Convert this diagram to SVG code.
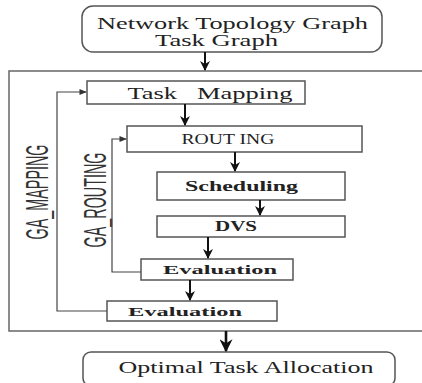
<svg xmlns="http://www.w3.org/2000/svg" width="422" height="383" viewBox="0 0 422 383">
<defs>
<style>
.box{fill:#fff;stroke:#555;stroke-width:1.5}
.frame{fill:none;stroke:#666;stroke-width:1.5}
.t{font-family:"Liberation Serif","Times New Roman",serif;fill:#222;text-anchor:middle}
.tb{font-family:"Liberation Serif","Times New Roman",serif;fill:#222;text-anchor:middle;font-weight:bold}
.tn{font-family:"Liberation Sans",Arial,sans-serif;fill:#333;text-anchor:middle}
.arr{stroke:#111;stroke-width:2;fill:none;marker-end:url(#ah)}
.fba{stroke:#444;stroke-width:1.2;fill:none;marker-end:url(#sh)}
</style>
<marker id="ah" viewBox="0 0 10 10" refX="9" refY="5" markerWidth="5" markerHeight="5" orient="auto" markerUnits="strokeWidth">
<path d="M0,0 L10,5 L0,10 L3,5 z" fill="#111"/>
</marker>
<marker id="sh" viewBox="0 0 10 10" refX="9" refY="5" markerWidth="7" markerHeight="6" orient="auto" markerUnits="strokeWidth">
<path d="M0,1 L10,5 L0,9 z" fill="#333"/>
</marker>
</defs>
<rect width="422" height="383" fill="#fff"/>

<rect class="frame" x="9" y="71" width="430" height="260"/>

<g id="input">
<rect class="box" x="82" y="6" width="300" height="46" rx="11"/>
<text class="t" x="232.5" y="29" font-size="16" textLength="271" lengthAdjust="spacingAndGlyphs">Network Topology Graph</text>
<text class="t" x="216.5" y="46" font-size="16" textLength="123" lengthAdjust="spacingAndGlyphs">Task Graph</text>
</g>

<g id="task-mapping">
<rect class="box" x="87" y="81" width="218" height="23"/>
<text class="t" x="210" y="99" font-size="17" textLength="165" lengthAdjust="spacingAndGlyphs" xml:space="preserve">Task   Mapping</text>
</g>

<g id="routing">
<rect class="box" x="127" y="126" width="235" height="26"/>
<text class="t" x="228" y="144" font-size="14" textLength="93" lengthAdjust="spacingAndGlyphs">ROUT ING</text>
</g>

<g id="scheduling">
<rect class="box" x="157" y="172" width="188" height="28"/>
<text class="tb" x="241.5" y="191" font-size="14" textLength="113" lengthAdjust="spacingAndGlyphs">Scheduling</text>
</g>

<g id="dvs">
<rect class="box" x="157" y="216" width="188" height="21"/>
<text class="tb" x="236" y="231" font-size="14" textLength="42" lengthAdjust="spacingAndGlyphs">DVS</text>
</g>

<g id="evaluation-routing">
<rect class="box" x="141" y="259" width="152" height="21"/>
<text class="tb" x="220" y="274" font-size="13" textLength="114" lengthAdjust="spacingAndGlyphs">Evaluation</text>
</g>

<g id="evaluation-mapping">
<rect class="box" x="107" y="301" width="170" height="20"/>
<text class="tb" x="185" y="316" font-size="13" textLength="114" lengthAdjust="spacingAndGlyphs">Evaluation</text>
</g>

<g id="output">
<rect class="box" x="83" y="352" width="312" height="34" rx="8"/>
<text class="t" x="246" y="373" font-size="16" textLength="255" lengthAdjust="spacingAndGlyphs">Optimal Task Allocation</text>
</g>

<g id="labels">
<text class="tn" transform="translate(48,192) rotate(-90)" font-size="31" textLength="95" lengthAdjust="spacingAndGlyphs">GA_MAPPING</text>
<text class="tn" transform="translate(106,200) rotate(-90)" font-size="32" textLength="95" lengthAdjust="spacingAndGlyphs">GA_ROUTING</text>
</g>

<g id="connectors">
<line class="arr" x1="205" y1="52" x2="205" y2="70"/>
<line class="arr" x1="185" y1="104" x2="185" y2="125"/>
<line class="arr" x1="235" y1="152" x2="235" y2="171"/>
<line class="arr" x1="260" y1="200" x2="260" y2="215"/>
<line class="arr" x1="208" y1="237" x2="208" y2="258"/>
<line class="arr" x1="190" y1="280" x2="190" y2="300"/>
<line class="arr" x1="226" y1="331" x2="226" y2="351" style="stroke-width:2.6"/>
<polyline class="fba" points="107,311 57,311 57,92 86,92"/>
<polyline class="fba" points="141,272 112,272 112,139 126,139"/>
</g>
</svg>
